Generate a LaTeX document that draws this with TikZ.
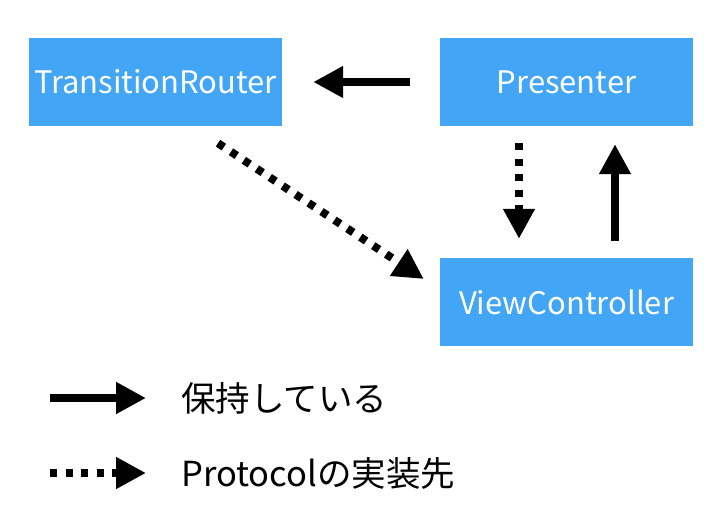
\documentclass[tikz,border=0pt]{standalone}
\usepackage{fontspec}
\setmainfont{Noto Sans CJK JP}
\usetikzlibrary{arrows.meta}
\definecolor{boxblue}{HTML}{42A5F5}
\tikzset{
  box/.style={fill=boxblue,text=white,minimum width=253pt,minimum height=88pt,inner sep=0pt,font=\fontsize{31pt}{37pt}\selectfont},
  hold/.style={line width=8pt,-{Triangle[length=30pt,width=30pt]}},
  impl/.style={hold,dash pattern=on 7pt off 8.5pt},
  legtext/.style={anchor=west,inner sep=0pt,font=\fontsize{34.5pt}{41pt}\selectfont}
}
\begin{document}
\begin{tikzpicture}[x=1pt,y=-1pt]
\useasboundingbox (0,0) rectangle (720,529);
\node[box] (tr) at (155.5,82) {TransitionRouter};
\node[box] (pr) at (566.5,82) {Presenter};
\node[box] (vc) at (566.5,302) {ViewController};
\draw[hold] ([xshift=-30pt]pr.west) -- ([xshift=31pt]tr.east);
\draw[impl] ([shift={(-47.5pt,-17pt)}]pr.south) -- ([shift={(-47.5pt,19pt)}]vc.north);
\draw[hold] ([shift={(48.5pt,17pt)}]vc.north) -- ([shift={(48.5pt,-18pt)}]pr.south);
\draw[impl] ([shift={(62.5pt,-17pt)}]tr.south) -- ([shift={(-16pt,23pt)}]vc.west);
\coordinate (l1a) at (50,398);
\coordinate (l1b) at (146,398);
\coordinate (l2a) at (50,473);
\coordinate (l2b) at (146,473);
\draw[hold] (l1a) -- (l1b);
\draw[impl] (l2a) -- (l2b);
\node[legtext] (t1) at (181,398) {保持している};
\node[legtext] (t2) at (181,473) {Protocolの実装先};
\end{tikzpicture}
\end{document}
